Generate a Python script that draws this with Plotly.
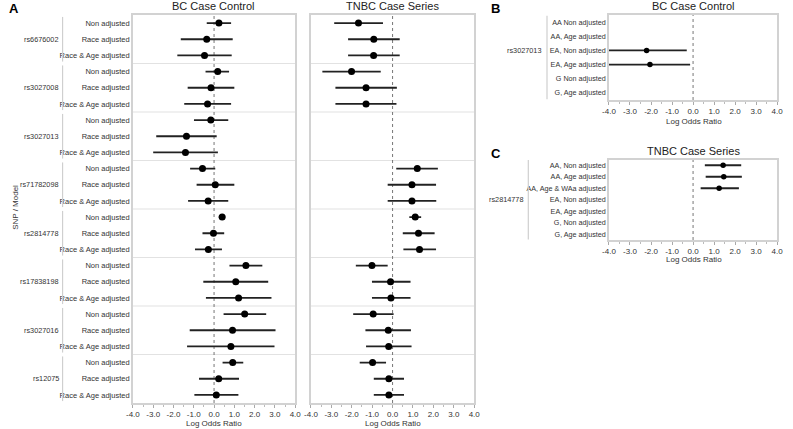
import plotly.graph_objects as go

# ---------------- data ----------------
snps_A = ["rs6676002", "rs3027008", "rs3027013", "rs71782098",
          "rs2814778", "rs17838198", "rs3027016", "rs12075"]
models_A = ["Non adjusted", "Race adjusted", "Race & Age adjusted"]

bc_or = [0.24, -0.36, -0.47, 0.18, -0.15, -0.32, -0.16, -1.36, -1.41,
         -0.57, 0.06, -0.29, 0.40, -0.03, -0.28, 1.57, 1.07, 1.21,
         1.51, 0.91, 0.83, 0.92, 0.23, 0.11]
bc_lo = [-0.36, -1.64, -1.81, -0.42, -1.30, -1.47, -0.99, -2.85, -3.00,
         -1.18, -0.86, -1.28, 0.23, -0.57, -0.94, 0.76, -0.53, -0.40,
         0.47, -1.20, -1.33, 0.42, -0.74, -0.97]
bc_hi = [0.84, 0.92, 0.87, 0.74, 1.00, 0.84, 0.70, 0.13, 0.19,
         0.06, 1.00, 0.70, 0.55, 0.50, 0.39, 2.38, 2.67, 2.83,
         2.57, 3.03, 2.98, 1.44, 1.23, 1.20]

tn_or = [-1.67, -0.92, -0.93, -2.01, -1.30, -1.30, None, None, None,
         1.21, 0.95, 0.95, 1.11, 1.27, 1.32, -1.01, -0.10, -0.08,
         -0.95, -0.21, -0.19, -0.98, -0.18, -0.18]
tn_lo = [-2.86, -2.18, -2.18, -3.44, -2.80, -2.80, None, None, None,
         0.18, -0.24, -0.24, 0.82, 0.50, 0.53, -1.80, -1.01, -1.01,
         -1.93, -1.33, -1.30, -1.61, -0.92, -0.92]
tn_hi = [-0.47, 0.35, 0.35, -0.58, 0.21, 0.19, None, None, None,
         2.22, 2.13, 2.14, 1.40, 2.06, 2.13, -0.24, 0.88, 0.88,
         0.05, 0.90, 0.93, -0.32, 0.56, 0.56]

snp_B = "rs3027013"
rows_B = ["AA Non adjusted", "AA, Age adjusted", "EA, Non adjusted",
          "EA, Age adjusted", "G Non adjusted", "G, Age adjusted"]
b_or = [None, None, -2.21, -2.05, None, None]
b_lo = [None, None, -4.4, -4.3, None, None]
b_hi = [None, None, -0.30, -0.14, None, None]

snp_C = "rs2814778"
rows_C = ["AA, Non adjusted", "AA, Age adjusted", "AA, Age & WAa adjusted",
          "EA, Non adjusted", "EA, Age adjusted", "G, Non adjusted",
          "G, Age adjusted"]
c_or = [1.43, 1.46, 1.24, None, None, None, None]
c_lo = [0.56, 0.60, 0.36, None, None, None, None]
c_hi = [2.29, 2.32, 2.18, None, None, None, None]

x_ticks = [-4, -3, -2, -1, 0, 1, 2, 3, 4]
x_tick_labels = ["-4.0", "-3.0", "-2.0", "-1.0", "0.0", "1.0", "2.0", "3.0", "4.0"]

# ---------------- helpers ----------------
W, H = 793, 429
FONT = "Liberation Sans, Arial, Helvetica, sans-serif"
TXT = "#333333"


def px(x):
    return x / W


def py(y):
    return 1 - y / H


def err(vals, lo, hi):
    plus = [None if v is None else h - v for v, h in zip(vals, hi)]
    minus = [None if v is None else v - l for v, l in zip(vals, lo)]
    return plus, minus


rows_A_labels = [m for s in snps_A for m in models_A]

fig = go.Figure()


def add_forest(vals, lo, hi, xa, ya, msize):
    ys = list(range(len(vals)))
    plus, minus = err(vals, lo, hi)
    fig.add_trace(go.Scatter(
        x=vals, y=ys, mode="markers", xaxis=xa, yaxis=ya,
        marker=dict(color="black", size=msize),
        error_x=dict(type="data", symmetric=False, array=plus, arrayminus=minus,
                     color="#222222", thickness=1.8, width=0),
        showlegend=False, cliponaxis=True, hoverinfo="x+y"))


add_forest(bc_or, bc_lo, bc_hi, "x", "y", 7)
add_forest(tn_or, tn_lo, tn_hi, "x2", "y2", 7)
add_forest(b_or, b_lo, b_hi, "x3", "y3", 5.5)
add_forest(c_or, c_lo, c_hi, "x4", "y4", 5.5)


def xaxis(x0, x1, anchor):
    return dict(domain=[px(x0), px(x1)], anchor=anchor, range=[-4, 4],
                tickmode="array", tickvals=x_ticks, ticktext=x_tick_labels,
                showline=True, mirror=True, linecolor="#d2d2d2", linewidth=1.5,
                showgrid=False, zeroline=False, ticks="outside", ticklen=3,
                tickcolor="#aaaaaa", tickwidth=1,
                minor=dict(ticks="outside", ticklen=2, tickcolor="#bbbbbb",
                           tickmode="linear", tick0=-4, dtick=0.5, showgrid=False),
                tickfont=dict(size=8, color=TXT, family=FONT), fixedrange=True)


def yaxis(y0, y1, anchor, n, labels, fsize=7.5):
    d = dict(domain=[py(y1), py(y0)], anchor=anchor, range=[n - 0.5, -0.5],
             tickmode="array", tickvals=list(range(n)),
             showline=True, mirror=True, linecolor="#d2d2d2", linewidth=1.5,
             showgrid=False, zeroline=False, ticks="", fixedrange=True,
             tickfont=dict(size=fsize, color=TXT, family=FONT))
    if labels is None:
        d["showticklabels"] = False
    else:
        d["ticktext"] = labels
    return d


fig.update_layout(
    width=W, height=H, autosize=False,
    margin=dict(l=0, r=0, t=0, b=0),
    paper_bgcolor="white", plot_bgcolor="white",
    font=dict(family=FONT, color=TXT),
    xaxis=xaxis(128, 293, "y"), yaxis=yaxis(15, 403, "x", 24, rows_A_labels),
    xaxis2=xaxis(309, 475, "y2"), yaxis2=yaxis(15, 403, "x2", 24, None),
    xaxis3=xaxis(612, 783, "y3"), yaxis3=yaxis(15, 100, "x3", len(rows_B), rows_B, 7.2),
    xaxis4=xaxis(612, 783, "y4"), yaxis4=yaxis(159.5, 240, "x4", len(rows_C), rows_C, 7.2),
)

shapes = []
# group separators in panel A
for xa, ya in [("x", "y"), ("x2", "y2")]:
    for g in range(1, len(snps_A)):
        yb = g * len(models_A) - 0.5
        shapes.append(dict(type="line", xref=f"{xa} domain", yref=ya, x0=0, x1=1,
                           y0=yb, y1=yb, line=dict(color="#e2e2e2", width=1.2), layer="below"))
# zero reference lines
for xa, ya in [("x", "y"), ("x2", "y2"), ("x3", "y3"), ("x4", "y4")]:
    shapes.append(dict(type="line", xref=xa, yref=f"{ya} domain", x0=0, x1=0, y0=0, y1=1,
                       line=dict(color="#666666", width=0.9, dash="dot"), layer="below"))
# brackets panel A
for g in range(len(snps_A)):
    shapes.append(dict(type="line", xref="paper", yref="y", x0=px(56.5), x1=px(56.5),
                       y0=g * 3 - 0.5 + 0.12, y1=g * 3 + 2.5 - 0.12,
                       line=dict(color="#cfcfcf", width=1.2)))
# brackets B, C
shapes.append(dict(type="line", xref="paper", yref="y3", x0=px(549), x1=px(549),
                   y0=-0.45, y1=len(rows_B) - 0.55, line=dict(color="#cfcfcf", width=1.2)))
shapes.append(dict(type="line", xref="paper", yref="y4", x0=px(530), x1=px(530),
                   y0=-0.45, y1=len(rows_C) - 0.55, line=dict(color="#cfcfcf", width=1.2)))
fig.update_layout(shapes=shapes)

ann = []
small = dict(size=7.3, color=TXT, family=FONT)
for g, s in enumerate(snps_A):
    ann.append(dict(text=s, xref="paper", yref="y", x=px(55), y=g * 3 + 1,
                    xanchor="right", yanchor="middle", showarrow=False, font=small))
ann.append(dict(text=snp_B, xref="paper", yref="y3", x=px(546), y=2,
                xanchor="right", yanchor="middle", showarrow=False, font=small))
ann.append(dict(text=snp_C, xref="paper", yref="y4", x=px(528), y=3,
                xanchor="right", yanchor="middle", showarrow=False, font=small))

title_font = dict(size=11, color="#222222", family=FONT)
for xc, yc, t in [(210, 6, "BC Case Control"), (392, 6, "TNBC Case Series"),
                  (698, 6, "BC Case Control"), (698, 151, "TNBC Case Series")]:
    ann.append(dict(text=t, xref="paper", yref="paper", x=px(xc), y=py(yc),
                    xanchor="center", yanchor="middle", showarrow=False, font=title_font))

axt = dict(size=8, color=TXT, family=FONT)
for xc, yc in [(210, 423), (392, 423), (698, 121.5), (698, 259.5)]:
    ann.append(dict(text="Log Odds Ratio", xref="paper", yref="paper", x=px(xc), y=py(yc),
                    xanchor="center", yanchor="middle", showarrow=False, font=axt))

ann.append(dict(text="SNP / Model", xref="paper", yref="paper", x=px(8), y=py(207),
                xanchor="center", yanchor="middle", textangle=-90, showarrow=False, font=axt))

pl = dict(size=13, color="black", family=FONT)
for xc, yc, t in [(7, 8.5, "A"), (497, 8.5, "B"), (497, 153.5, "C")]:
    ann.append(dict(text=f"<b>{t}</b>", xref="paper", yref="paper", x=px(xc), y=py(yc),
                    xanchor="center", yanchor="middle", showarrow=False, font=pl))

fig.update_layout(annotations=ann)

fig.write_html(
    "out.html",
    config={"displayModeBar": False},
    post_script="document.body.style.margin='0';"
                "document.documentElement.style.overflow='hidden';"
                "document.body.style.overflow='hidden';")
